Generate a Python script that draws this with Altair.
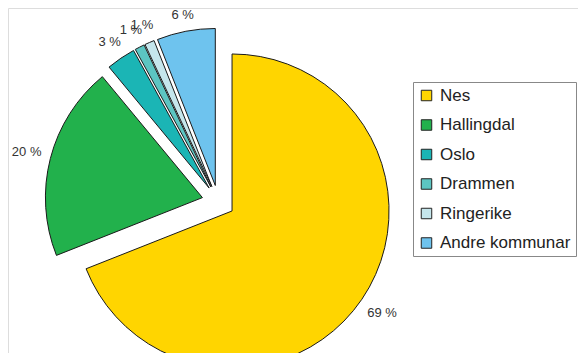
import altair as alt
import pandas as pd

categories = ["Nes", "Hallingdal", "Oslo", "Drammen", "Ringerike", "Andre kommunar"]
values = [69, 20, 3, 1, 1, 6]
colors = ["#FFD500", "#22B14C", "#1BB5B5", "#5CC5C2", "#C5E6EC", "#6EC3EE"]

df = pd.DataFrame({"kommune": categories, "share": values, "order": list(range(len(categories)))})

R_PX = 157
CX, CY = 210.4, 193.7
EXPLODE = 16.5 / R_PX
GAP = 9
HALF_H = 6
CHAR_HALF_W = 3.6

xscale = alt.Scale(domain=[-1, 1], range=[CX - R_PX, CX + R_PX])
yscale = alt.Scale(domain=[-1, 1], range=[CY - R_PX, CY + R_PX])

base = alt.Chart(df).transform_window(
    end="sum(share)", sort=[alt.SortField("order")], frame=[None, 0]
).transform_calculate(
    start="datum.end - datum.share",
    label="datum.share + ' %'",
).transform_calculate(
    mid="(datum.start + datum.end) / 2 * 2 * PI / 100",
).transform_calculate(
    cx=f"{EXPLODE} * sin(datum.mid)",
    cy=f"-{EXPLODE} * cos(datum.mid)",
    lr=f"({R_PX} + {GAP} + length(datum.label) * {CHAR_HALF_W} * abs(sin(datum.mid)) + {HALF_H} * abs(cos(datum.mid))) / {R_PX}",
).transform_calculate(
    lx="datum.cx + datum.lr * sin(datum.mid)",
    ly="datum.cy - datum.lr * cos(datum.mid)",
)

arcs = base.mark_arc(radius=R_PX, stroke="#1a1a1a", strokeWidth=1).encode(
    x=alt.X("cx:Q", scale=xscale, axis=None),
    y=alt.Y("cy:Q", scale=yscale, axis=None),
    theta=alt.Theta("start:Q", scale=alt.Scale(domain=[0, 100], range=[0, 6.283185307])),
    theta2="end:Q",
    color=alt.Color(
        "kommune:N",
        scale=alt.Scale(domain=categories, range=colors),
        sort=categories,
        legend=alt.Legend(
            orient="none", legendX=405, legendY=74, title=None,
            symbolType="square", symbolSize=110, symbolStrokeColor="#222",
            symbolStrokeWidth=1, symbolOpacity=1,
            labelFontSize=17, labelFont="Liberation Sans", labelColor="#222",
            labelOffset=5, rowPadding=11.5, padding=5,
            strokeColor="#888", fillColor="white", labelLimit=300,
        ),
    ),
    order=alt.Order("order:Q"),
)

labels = base.mark_text(fontSize=13, font="Liberation Sans", color="#333").encode(
    x=alt.X("lx:Q", scale=xscale, axis=None),
    y=alt.Y("ly:Q", scale=yscale, axis=None),
    text="label:N",
)

chart = alt.layer(arcs, labels).properties(
    width=570, height=345, padding=0,
    autosize=alt.AutoSizeParams(type="none"),
).configure_view(stroke="transparent", strokeWidth=0).configure_axis(
    domain=False, grid=False, ticks=False, labels=False
).configure(background="white")

chart.save("out.html", embed_options={"renderer": "svg", "actions": False})
